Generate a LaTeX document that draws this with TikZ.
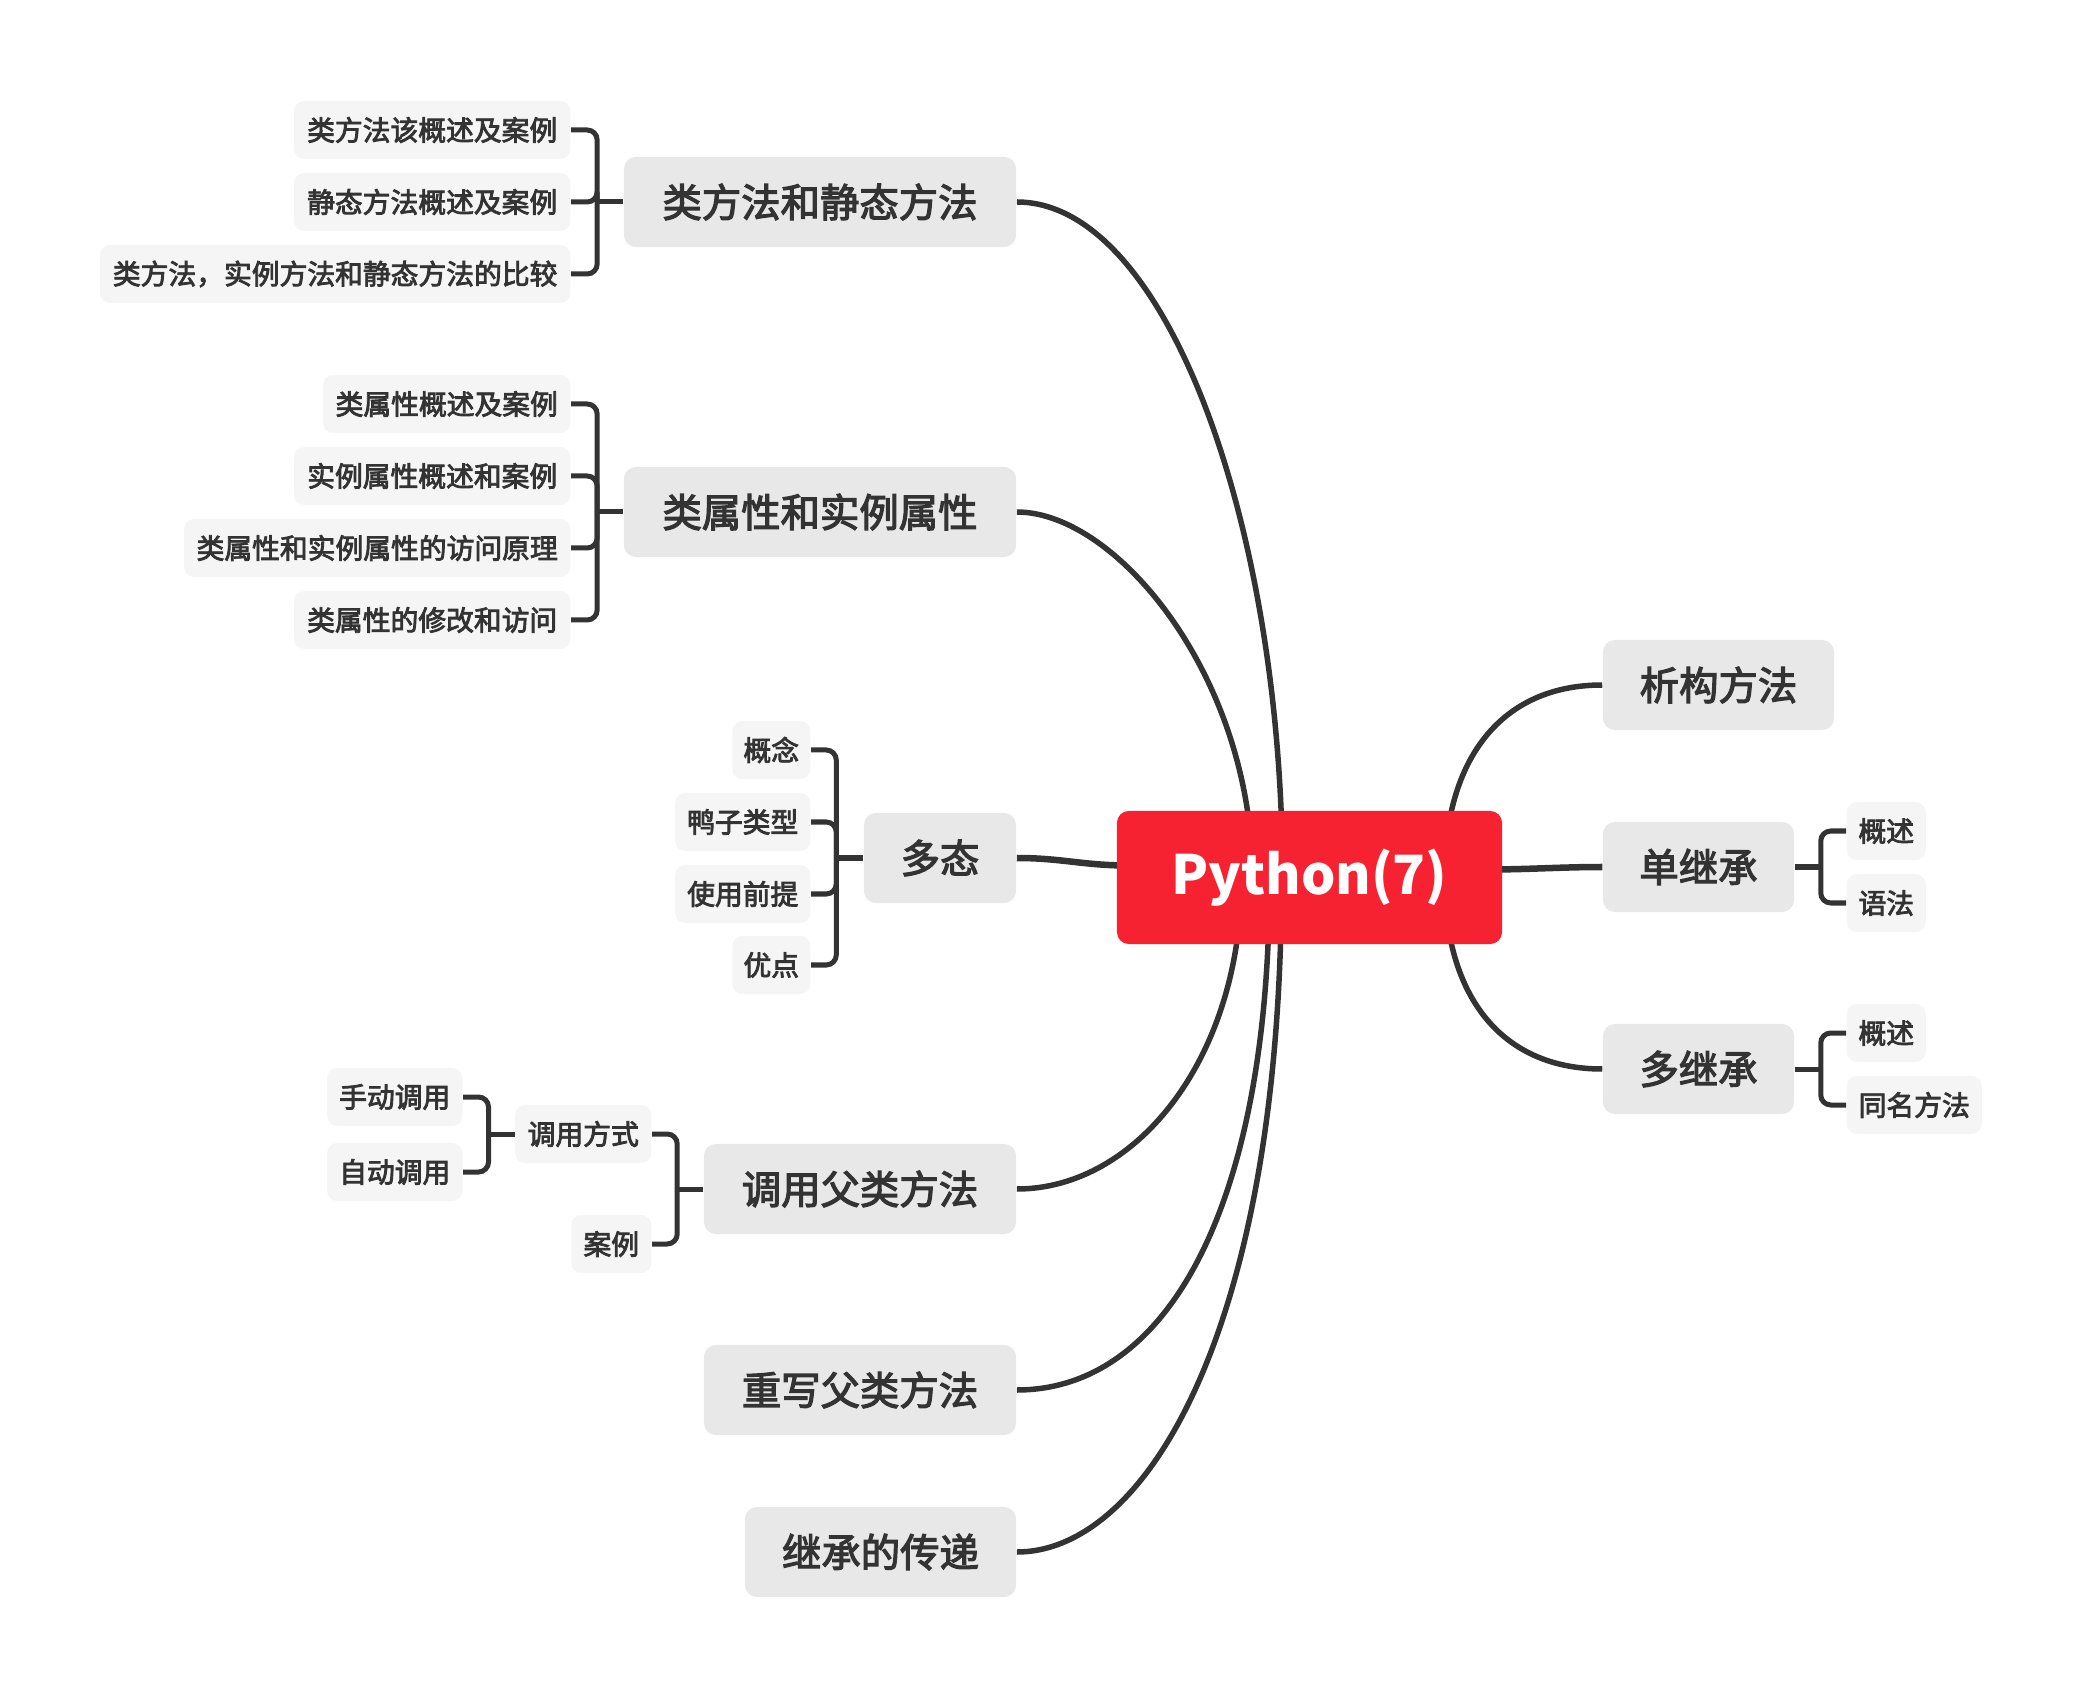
\documentclass[tikz,border=0pt]{standalone}
\usepackage{fontspec}
\setmainfont{Noto Sans CJK SC}
\newfontfamily\medfont{Noto Sans CJK SC}[FakeBold=3]
\usetikzlibrary{calc}
\pgfdeclarelayer{bg}
\pgfsetlayers{bg,main}
\definecolor{ink}{HTML}{333333}
\definecolor{rootred}{HTML}{F72231}
\definecolor{topicgray}{HTML}{E8E8E8}
\definecolor{leafgray}{HTML}{F5F5F5}
\begin{document}
\begin{tikzpicture}[x=0.01cm,y=-0.01cm,
  rootbox/.style={fill=rootred, rounded corners=0.12cm, minimum width=3.85cm, minimum height=1.33cm, inner sep=0pt, text=white, font=\bfseries\fontsize{15.4}{19}\selectfont},
  topic/.style={fill=topicgray, rounded corners=0.12cm, minimum height=0.9cm, inner sep=0pt, text=ink, font=\medfont\fontsize{11.2}{13}\selectfont},
  sub/.style={fill=leafgray, rounded corners=0.1cm, minimum height=0.58cm, inner sep=0pt, text=ink, font=\medfont\fontsize{7.9}{9}\selectfont},
  conn/.style={draw=ink, line width=0.055cm},
  brk/.style={draw=ink, line width=0.05cm, rounded corners=0.1cm}
]
\useasboundingbox (0,0) rectangle (2082,1698);

% root
\node[rootbox] (R) at (1309.5,877.5) {Python(7)};

% first level, left
\node[topic, minimum width=3.92cm] (A) at (820,202) {类方法和静态方法};
\node[topic, minimum width=3.92cm] (B) at (820,512) {类属性和实例属性};
\node[topic, minimum width=1.52cm] (C) at (940,858) {多态};
\node[topic, minimum width=3.12cm] (D) at (860,1189) {调用父类方法};
\node[topic, minimum width=3.12cm] (E) at (860,1390) {重写父类方法};
\node[topic, minimum width=2.71cm] (F) at (880.5,1552) {继承的传递};
% first level, right
\node[topic, minimum width=2.31cm] (G) at (1718.5,685) {析构方法};
\node[topic, minimum width=1.91cm] (H) at (1698.5,867) {单继承};
\node[topic, minimum width=1.91cm] (I) at (1698.5,1069) {多继承};

% leaves of A
\node[sub, minimum width=2.76cm, anchor=east] (A1) at (571,130) {类方法该概述及案例};
\node[sub, minimum width=2.76cm, anchor=east] (A2) at (571,202) {静态方法概述及案例};
\node[sub, minimum width=4.70cm, anchor=east] (A3) at (571,274) {类方法，实例方法和静态方法的比较};
% leaves of B
\node[sub, minimum width=2.47cm, anchor=east] (B1) at (571,404) {类属性概述及案例};
\node[sub, minimum width=2.76cm, anchor=east] (B2) at (571,476) {实例属性概述和案例};
\node[sub, minimum width=3.86cm, anchor=east] (B3) at (571,548) {类属性和实例属性的访问原理};
\node[sub, minimum width=2.76cm, anchor=east] (B4) at (571,620) {类属性的修改和访问};
% leaves of C
\node[sub, minimum width=0.78cm, anchor=east] (C1) at (811,750) {概念};
\node[sub, minimum width=1.35cm, anchor=east] (C2) at (811,822) {鸭子类型};
\node[sub, minimum width=1.35cm, anchor=east] (C3) at (811,894) {使用前提};
\node[sub, minimum width=0.78cm, anchor=east] (C4) at (811,965) {优点};
% leaves of D
\node[sub, minimum width=1.36cm, anchor=east] (D1) at (652,1134) {调用方式};
\node[sub, minimum width=0.80cm, anchor=east] (D2) at (652,1244) {案例};
\node[sub, minimum width=1.35cm, anchor=east] (D11) at (463,1097) {手动调用};
\node[sub, minimum width=1.35cm, anchor=east] (D12) at (463,1172) {自动调用};
% leaves of H, I
\node[sub, minimum width=0.79cm, anchor=west] (H1) at (1846,831) {概述};
\node[sub, minimum width=0.79cm, anchor=west] (H2) at (1846,903) {语法};
\node[sub, minimum width=0.79cm, anchor=west] (I1) at (1846,1033) {概述};
\node[sub, minimum width=1.35cm, anchor=west] (I2) at (1846,1105) {同名方法};

% junction points
\coordinate (rA) at ($(R.center)+(-27,0)$);
\coordinate (rB) at ($(R.center)+(-57,0)$);
\coordinate (rC) at ($(R.west)+(12,-12)$);
\coordinate (rD) at ($(R.center)+(-68,0)$);
\coordinate (rE) at ($(R.center)+(-40,0)$);
\coordinate (rF) at ($(R.center)+(-28,0)$);
\coordinate (rG) at ($(R.center)+(135,0)$);
\coordinate (rH) at ($(R.east)+(-15,-8)$);
\coordinate (rI) at ($(R.center)+(135,0)$);

\coordinate (Ab) at ($(A.west)+(-26,0)$);
\coordinate (Bb) at ($(B.west)+(-26,0)$);
\coordinate (Cb) at ($(C.west)+(-27,0)$);
\coordinate (Db) at ($(D.west)+(-26,0)$);
\coordinate (D1b) at ($(D1.west)+(-26,0)$);
\coordinate (Hb) at ($(H.east)+(26,0)$);
\coordinate (Ib) at ($(I.east)+(26,0)$);

\begin{pgfonlayer}{bg}
  \draw[conn] (A.east) .. controls +(150,0) and +(0,-350) .. (rA);
  \draw[conn] (B.east) .. controls +(100,0) and +(0,-200) .. (rB);
  \draw[conn, line width=0.065cm] (C.east) .. controls +(45,0) and +(-45,0) .. (rC);
  \draw[conn] (D.east) .. controls +(120,0) and +(0,180) .. (rD);
  \draw[conn] (E.east) .. controls +(150,0) and +(0,330) .. (rE);
  \draw[conn] (F.east) .. controls +(130,0) and +(0,450) .. (rF);
  \draw[conn] (G.west) .. controls +(-100,0) and +(0,-120) .. (rG);
  \draw[conn, line width=0.065cm] (H.west) .. controls +(-40,0) and +(40,0) .. (rH);
  \draw[conn] (I.west) .. controls +(-100,0) and +(0,120) .. (rI);
\end{pgfonlayer}

% brackets
\draw[brk] (A.west) -- (Ab);
\foreach \n in {A1,A2,A3} \draw[brk] (Ab) |- (\n.east);
\draw[brk] (B.west) -- (Bb);
\foreach \n in {B1,B2,B3,B4} \draw[brk] (Bb) |- (\n.east);
\draw[brk] (C.west) -- (Cb);
\foreach \n in {C1,C2,C3,C4} \draw[brk] (Cb) |- (\n.east);
\draw[brk] (D.west) -- (Db);
\foreach \n in {D1,D2} \draw[brk] (Db) |- (\n.east);
\draw[brk] (D1.west) -- (D1b);
\foreach \n in {D11,D12} \draw[brk] (D1b) |- (\n.east);
\draw[brk] (H.east) -- (Hb);
\foreach \n in {H1,H2} \draw[brk] (Hb) |- (\n.west);
\draw[brk] (I.east) -- (Ib);
\foreach \n in {I1,I2} \draw[brk] (Ib) |- (\n.west);
\end{tikzpicture}
\end{document}
